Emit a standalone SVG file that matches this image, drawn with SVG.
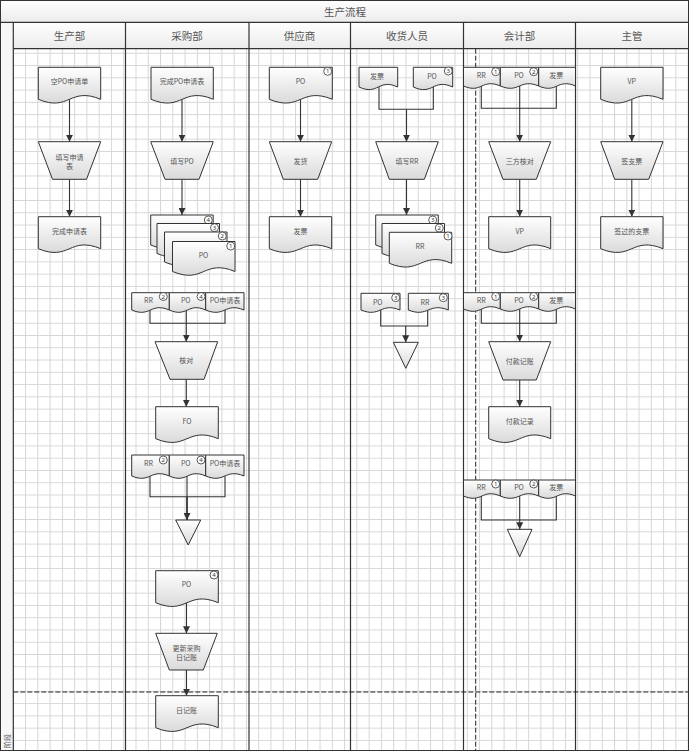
<svg xmlns="http://www.w3.org/2000/svg" width="689" height="751" viewBox="0 0 689 751">
<defs>
<pattern id="grid" x="12.8" y="52.8" width="12.27" height="12.27" patternUnits="userSpaceOnUse">
<path d="M0 0.5H12.27M0.5 0V12.27" stroke="#d6d6d6" stroke-width="1" fill="none"/>
</pattern>
<linearGradient id="sg" x1="0" y1="0" x2="0" y2="1">
<stop offset="0" stop-color="#ffffff"/>
<stop offset="1" stop-color="#dadada"/>
</linearGradient>
<linearGradient id="hg" x1="0" y1="0" x2="0" y2="1">
<stop offset="0" stop-color="#ffffff"/>
<stop offset="1" stop-color="#ebebeb"/>
</linearGradient>
<marker id="ah" markerWidth="7" markerHeight="7" refX="7" refY="3.5" orient="auto" markerUnits="userSpaceOnUse">
<path d="M0 0L7 3.5L0 7z" fill="#333"/>
</marker>
</defs>
<style>
.sh{fill:url(#sg);stroke:#333;stroke-width:1}
.t{font-family:"Noto Sans CJK SC","Noto Sans",sans-serif;font-size:7px;fill:#555;text-anchor:middle;dominant-baseline:central}
.h{font-family:"Noto Sans CJK SC","Noto Sans",sans-serif;font-size:10.5px;fill:#555;text-anchor:middle;dominant-baseline:central}
.c{fill:#fff;stroke:#333;stroke-width:0.8}
.n{font-family:"Noto Sans","DejaVu Sans",sans-serif;font-size:6px;fill:#333;text-anchor:middle;dominant-baseline:central}
.cn{fill:none;stroke:#333;stroke-width:1.1}
.ar{fill:none;stroke:#333;stroke-width:1.1;marker-end:url(#ah)}
.col{stroke:#333;stroke-width:1.2;fill:none}
.dash{stroke:#222;stroke-width:1;stroke-dasharray:5 2;fill:none}
</style>

<!-- background / frame -->
<rect x="0" y="0" width="689" height="751" fill="#fff"/>
<rect x="0.5" y="0.5" width="688" height="22" fill="url(#hg)"/>
<rect x="13.3" y="22.3" width="675" height="26.4" fill="url(#hg)"/>
<rect x="0.5" y="22.3" width="12.8" height="728" fill="#f7f7f7"/>
<rect x="13.3" y="48.7" width="675" height="702" fill="url(#grid)"/>

<g id="lanes">
<rect x="0.5" y="0.5" width="688" height="750" fill="none" stroke="#333" stroke-width="1"/>
<line class="col" x1="0.5" y1="22.3" x2="688.5" y2="22.3"/>
<line class="col" x1="13.3" y1="48.7" x2="688.5" y2="48.7"/>
<line class="col" x1="13.3" y1="22.3" x2="13.3" y2="751"/>
<line class="col" x1="125.5" y1="22.3" x2="125.5" y2="751"/>
<line class="col" x1="249" y1="22.3" x2="249" y2="751"/>
<line class="col" x1="350.5" y1="22.3" x2="350.5" y2="751"/>
<line class="col" x1="463.5" y1="22.3" x2="463.5" y2="751"/>
<line class="col" x1="575.5" y1="22.3" x2="575.5" y2="751"/>
<line class="dash" x1="475.7" y1="48.7" x2="475.7" y2="751"/>
<line class="dash" x1="13.3" y1="692" x2="688" y2="692"/>
<text class="h" x="345" y="11">生产流程</text>
<text class="h" x="69.5" y="35.5">生产部</text>
<text class="h" x="187" y="35.5">采购部</text>
<text class="h" x="299.5" y="35.5">供应商</text>
<text class="h" x="407" y="35.5">收货人员</text>
<text class="h" x="519.5" y="35.5">会计部</text>
<text class="h" x="632" y="35.5">主管</text>
<text class="t" x="6.5" y="741" transform="rotate(-90 6.5 741)">阶段</text>
</g>

<g id="connectors">
<path class="ar" d="M69.5 99.3V141.7"/>
<path class="ar" d="M69.5 179.3V216.7"/>
<path class="ar" d="M182 99.3V141.7"/>
<path class="ar" d="M182 179.3V215"/>
<path class="cn" d="M150 310V323.3H225V310"/>
<path class="ar" d="M186.3 310V341.7"/>
<path class="ar" d="M186.3 379.3V406.7"/>
<path class="cn" d="M150 476V496.7H225V476"/>
<path class="cn" d="M187 476V496.7"/>
<path class="ar" d="M187 496.7V520" style="stroke-width:1.8"/>
<path class="ar" d="M186.5 602.7V633.3"/>
<path class="ar" d="M186.5 670V695.7"/>
<path class="ar" d="M300.5 99.3V141.7"/>
<path class="ar" d="M300.5 179.3V216.7"/>
<path class="cn" d="M379 87V109.3H433.3V87"/>
<path class="ar" d="M406.5 109.3V141.7"/>
<path class="ar" d="M406.5 179.3V215"/>
<path class="cn" d="M380.7 310V326H427.7V310"/>
<path class="ar" d="M405.7 326V342.3"/>
<path class="cn" d="M481.3 86V108.3H556.3V86"/>
<path class="ar" d="M519.7 86V141.7"/>
<path class="ar" d="M519.7 179.3V216.7"/>
<path class="cn" d="M481.3 309V323.3H556.3V309"/>
<path class="ar" d="M519.7 309V341.7"/>
<path class="ar" d="M519.7 380V406.7"/>
<path class="cn" d="M481.3 496V520H556.3V496"/>
<path class="ar" d="M519.7 496V529.3"/>
<path class="ar" d="M631.8 99.3V141.7"/>
<path class="ar" d="M631.8 179.3V216.7"/>
</g>

<g id="n_kongpo">
<path class="sh" d="M38.3 67.3H100.7V99.3C69.5 86.3 69.5 112.3 38.3 99.3Z"/>
<text class="t" x="69.5" y="81">空PO申请单</text>
</g>
<g id="n_tianxie_sqb">
<path class="sh" d="M38.3 141.7H100.7L86.5 179.3H52.5Z"/>
<text class="t" x="69.5" y="156.5">填写申请</text>
<text class="t" x="69.5" y="165.5">表</text>
</g>
<g id="n_wancheng_sqb">
<path class="sh" d="M38.3 216.7H100.7V248.7C69.5 235.7 69.5 261.7 38.3 248.7Z"/>
<text class="t" x="69.5" y="230.5">完成申请表</text>
</g>

<g id="n_wancheng_po">
<path class="sh" d="M151 67.3H213.3V99.3C182.2 86.3 182.2 112.3 151 99.3Z"/>
<text class="t" x="182" y="81">完成PO申请表</text>
</g>
<g id="n_tianxie_po">
<path class="sh" d="M150.7 141.7H213.3L199 179.3H165Z"/>
<text class="t" x="182" y="160.5">填写PO</text>
</g>
<g id="n_po_stack">
<path class="sh" d="M150.7 215H213.2V245C182 232 182 258 150.7 245Z"/>
<circle class="c" cx="208.3" cy="220" r="4"/><text class="n" x="208.3" y="220">4</text>
<path class="sh" d="M157 223.5H219.5V253.5C188.3 240.5 188.3 266.5 157 253.5Z"/>
<circle class="c" cx="214.5" cy="227.7" r="4"/><text class="n" x="214.5" y="227.7">3</text>
<path class="sh" d="M164.5 232H227V262C195.8 249 195.8 275 164.5 262Z"/>
<circle class="c" cx="222.3" cy="236" r="4"/><text class="n" x="222.3" y="236">2</text>
<path class="sh" d="M172.5 241.5H235V271.5C203.8 258.5 203.8 284.5 172.5 271.5Z"/>
<circle class="c" cx="230.7" cy="246" r="4"/><text class="n" x="230.7" y="246">1</text>
<text class="t" x="203.5" y="255">PO</text>
</g>
<g id="n_multi1">
<path class="sh" d="M131.7 292.7H169.3V310C150.5 302 150.5 318 131.7 310Z"/>
<path class="sh" d="M169.3 292.7H205.7V310C187.5 302 187.5 318 169.3 310Z"/>
<path class="sh" d="M205.7 292.7H244V310C224.9 302 224.9 318 205.7 310Z"/>
<text class="t" x="148.5" y="299.5">RR</text>
<circle class="c" cx="163.3" cy="296.5" r="4"/><text class="n" x="163.3" y="296.5">2</text>
<text class="t" x="185.7" y="299.5">PO</text>
<circle class="c" cx="201" cy="296.5" r="4"/><text class="n" x="201" y="296.5">4</text>
<text class="t" x="225" y="299.5">PO申请表</text>
</g>
<g id="n_hedui">
<path class="sh" d="M155 341.7H217.7L204 379.3H170Z"/>
<text class="t" x="186.3" y="360">核对</text>
</g>
<g id="n_fo">
<path class="sh" d="M155.7 406.7H218.3V438.7C187 425.7 187 451.7 155.7 438.7Z"/>
<text class="t" x="187" y="420.5">FO</text>
</g>
<g id="n_multi2">
<path class="sh" d="M131.7 455H169.3V476C150.5 468 150.5 484 131.7 476Z"/>
<path class="sh" d="M169.3 455H205.7V476C187.5 468 187.5 484 169.3 476Z"/>
<path class="sh" d="M205.7 455H244V476C224.9 468 224.9 484 205.7 476Z"/>
<text class="t" x="148.5" y="463">RR</text>
<circle class="c" cx="163.3" cy="460" r="4"/><text class="n" x="163.3" y="460">2</text>
<text class="t" x="185.7" y="463">PO</text>
<circle class="c" cx="201" cy="460" r="4"/><text class="n" x="201" y="460">4</text>
<text class="t" x="225" y="463">PO申请表</text>
</g>
<g id="n_end1">
<path class="sh" d="M175.7 520H200.7L188.2 545Z"/>
</g>
<g id="n_po_bottom">
<path class="sh" d="M155.7 570.7H218.3V602.7C187 589.7 187 615.7 155.7 602.7Z"/>
<text class="t" x="186.5" y="584">PO</text>
<circle class="c" cx="214" cy="575" r="4"/><text class="n" x="214" y="575">4</text>
</g>
<g id="n_gengxin">
<path class="sh" d="M155.7 633.3H217.3L203.3 670H169.3Z"/>
<text class="t" x="186.5" y="647.5">更新采购</text>
<text class="t" x="186.5" y="656.5">日记账</text>
</g>
<g id="n_rijizhang">
<path class="sh" d="M155.7 695.7H218.3V727.7C187 714.7 187 740.7 155.7 727.7Z"/>
<text class="t" x="186.5" y="709.5">日记账</text>
</g>

<g id="n_gys_po">
<path class="sh" d="M269.3 67.3H332.3V99.3C300.8 86.3 300.8 112.3 269.3 99.3Z"/>
<text class="t" x="300.5" y="81">PO</text>
<circle class="c" cx="327.7" cy="71.3" r="4"/><text class="n" x="327.7" y="71.3">1</text>
</g>
<g id="n_fahuo">
<path class="sh" d="M269.3 141.7H331.7L317.7 179.3H283.3Z"/>
<text class="t" x="300.5" y="160.5">发货</text>
</g>
<g id="n_gys_fapiao">
<path class="sh" d="M269.3 216.7H331.7V248.7C300.5 235.7 300.5 261.7 269.3 248.7Z"/>
<text class="t" x="300.5" y="230.5">发票</text>
</g>

<g id="n_sh_fapiao">
<path class="sh" d="M359 67.3H397.7V87C378.3 78 378.3 96 359 87Z"/>
<text class="t" x="377" y="75.7">发票</text>
</g>
<g id="n_sh_po">
<path class="sh" d="M413.3 67.3H452.7V87C433 78 433 96 413.3 87Z"/>
<text class="t" x="432" y="75.7">PO</text>
<circle class="c" cx="448.3" cy="71" r="4"/><text class="n" x="448.3" y="71">3</text>
</g>
<g id="n_tianxie_rr">
<path class="sh" d="M375.7 141.7H438.3L424.3 179.3H389.3Z"/>
<text class="t" x="407" y="160.5">填写RR</text>
</g>
<g id="n_rr_stack">
<path class="sh" d="M375.7 215H438.3V245C407 232 407 258 375.7 245Z"/>
<circle class="c" cx="432.7" cy="220" r="4"/><text class="n" x="432.7" y="220">3</text>
<path class="sh" d="M382 223.5H444.5V253.5C413.3 240.5 413.3 266.5 382 253.5Z"/>
<circle class="c" cx="439.3" cy="228" r="4"/><text class="n" x="439.3" y="228">2</text>
<path class="sh" d="M389.3 232.3H451.7V263.3C420.5 250.3 420.5 276.3 389.3 263.3Z"/>
<circle class="c" cx="448" cy="236" r="4"/><text class="n" x="448" y="236">1</text>
<text class="t" x="420" y="245.5">RR</text>
</g>
<g id="n_sh_po2">
<path class="sh" d="M361 293.3H400V310C380.5 302 380.5 318 361 310Z"/>
<text class="t" x="377.7" y="302">PO</text>
<circle class="c" cx="395.7" cy="297.7" r="4"/><text class="n" x="395.7" y="297.7">3</text>
</g>
<g id="n_sh_rr2">
<path class="sh" d="M408.3 293.3H448.3V310C428.3 302 428.3 318 408.3 310Z"/>
<text class="t" x="425" y="302">RR</text>
<circle class="c" cx="443.3" cy="297.7" r="4"/><text class="n" x="443.3" y="297.7">3</text>
</g>
<g id="n_end2">
<path class="sh" d="M393.3 342.3H418.3L405.8 368.3Z"/>
</g>

<g id="n_kj_multi1">
<path class="sh" d="M463.5 67.3H500.3V86C481.9 78 481.9 94 463.5 86Z"/>
<path class="sh" d="M500.3 67.3H538.7V86C519.5 78 519.5 94 500.3 86Z"/>
<path class="sh" d="M538.7 67.3H575.5V86C557.1 78 557.1 94 538.7 86Z"/>
<text class="t" x="481.3" y="75">RR</text>
<circle class="c" cx="495.7" cy="71.7" r="4"/><text class="n" x="495.7" y="71.7">1</text>
<text class="t" x="519" y="75">PO</text>
<circle class="c" cx="533.7" cy="71.7" r="4"/><text class="n" x="533.7" y="71.7">2</text>
<text class="t" x="556.3" y="75">发票</text>
</g>
<g id="n_sanfang">
<path class="sh" d="M488.7 141.7H550.7L536.3 179.3H503Z"/>
<text class="t" x="519.7" y="160.5">三方核对</text>
</g>
<g id="n_kj_vp">
<path class="sh" d="M488.7 216.7H550.7V248.7C519.7 235.7 519.7 261.7 488.7 248.7Z"/>
<text class="t" x="519.7" y="230.5">VP</text>
</g>
<g id="n_kj_multi2">
<path class="sh" d="M463.5 292.7H500.3V309C481.9 301 481.9 317 463.5 309Z"/>
<path class="sh" d="M500.3 292.7H538.7V309C519.5 301 519.5 317 500.3 309Z"/>
<path class="sh" d="M538.7 292.7H575.5V309C557.1 301 557.1 317 538.7 309Z"/>
<text class="t" x="481.3" y="299.5">RR</text>
<circle class="c" cx="495.7" cy="296.5" r="4"/><text class="n" x="495.7" y="296.5">1</text>
<text class="t" x="519" y="299.5">PO</text>
<circle class="c" cx="533.7" cy="296.5" r="4"/><text class="n" x="533.7" y="296.5">2</text>
<text class="t" x="556.3" y="299.5">发票</text>
</g>
<g id="n_fukuan_jz">
<path class="sh" d="M488.7 341.7H550.7L536.3 380H503Z"/>
<text class="t" x="519.7" y="361">付款记账</text>
</g>
<g id="n_fukuan_jl">
<path class="sh" d="M488.7 406.7H550.7V438.7C519.7 425.7 519.7 451.7 488.7 438.7Z"/>
<text class="t" x="519.7" y="421">付款记录</text>
</g>
<g id="n_kj_multi3">
<path class="sh" d="M463.5 480H500.3V496C481.9 488 481.9 504 463.5 496Z"/>
<path class="sh" d="M500.3 480H538.7V496C519.5 488 519.5 504 500.3 496Z"/>
<path class="sh" d="M538.7 480H575.5V496C557.1 488 557.1 504 538.7 496Z"/>
<text class="t" x="481.3" y="487.3">RR</text>
<circle class="c" cx="495.7" cy="484" r="4"/><text class="n" x="495.7" y="484">1</text>
<text class="t" x="519" y="487.3">PO</text>
<circle class="c" cx="533.7" cy="484" r="4"/><text class="n" x="533.7" y="484">2</text>
<text class="t" x="556.3" y="487.3">发票</text>
</g>
<g id="n_end3">
<path class="sh" d="M507.3 529.3H532L519.7 556.7Z"/>
</g>

<g id="n_zg_vp">
<path class="sh" d="M600.7 67.3H663V99.3C631.8 86.3 631.8 112.3 600.7 99.3Z"/>
<text class="t" x="631.8" y="81">VP</text>
</g>
<g id="n_qian">
<path class="sh" d="M600.7 141.7H663L648.7 179.3H614.7Z"/>
<text class="t" x="631.8" y="160.5">签支票</text>
</g>
<g id="n_qianguo">
<path class="sh" d="M600.7 216.7H663V248.7C631.8 235.7 631.8 261.7 600.7 248.7Z"/>
<text class="t" x="631.8" y="230.5">签过的支票</text>
</g>
</svg>
